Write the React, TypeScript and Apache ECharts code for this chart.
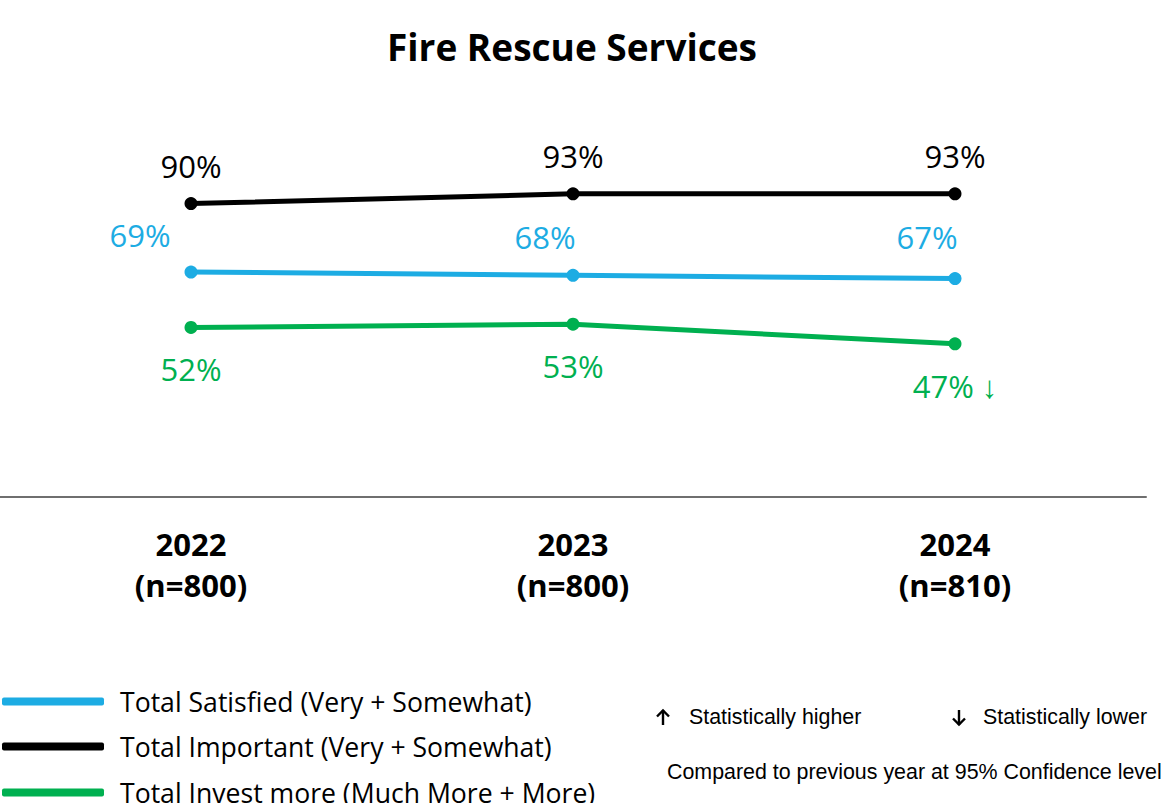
import React, { useEffect, useRef } from "react";
import * as echarts from "echarts";

const years = ["2022\n(n=800)", "2023\n(n=800)", "2024\n(n=810)"];
const satisfied = [69, 68, 67];
const important = [90, 93, 93];
const investMore = [52, 53, 47];
const investFlags = ["", "", " ↓"];
const seriesNames = [
  "Total Satisfied (Very + Somewhat)",
  "Total Important (Very + Somewhat)",
  "Total Invest more (Much More + More)",
];

const FONT = "'Open Sans', 'Noto Sans', sans-serif";
const NOTE_FONT = "21.4px 'Liberation Sans', Arial, sans-serif";
const BLUE = "#1DACE3";
const BLACK = "#000000";
const GREEN = "#00B050";

function arrow(cx: number, top: number, bottom: number, up: boolean) {
  const tip = up ? top : bottom;
  const dir = up ? 1 : -1;
  const style = { stroke: "#000", lineWidth: 2.4, fill: null, lineCap: "butt", lineJoin: "miter" };
  return [
    { type: "line", shape: { x1: cx, y1: top, x2: cx, y2: bottom }, style },
    {
      type: "polyline",
      shape: { points: [[cx - 6, tip + dir * 6.5], [cx, tip + dir * 0.5], [cx + 6, tip + dir * 6.5]] },
      style,
    },
  ];
}

const satisfiedLabelOffsets = [[-51, 0], [-28, -1], [-28, -5]];

export default function App() {
  const ref = useRef<HTMLDivElement>(null);
  useEffect(() => {
    document.body.style.margin = "0";
    const chart = echarts.init(ref.current!, null, { renderer: "svg" });
    const legendTops = [688, 733, 779];
    const option: any = {
      animation: false,
      backgroundColor: "#ffffff",
      title: {
        text: "Fire Rescue Services",
        left: 572,
        textAlign: "center",
        top: 28,
        padding: 0,
        textStyle: { fontFamily: FONT, fontWeight: "bold", fontSize: 37, color: "#000" },
      },
      grid: { left: -2, right: 24, top: 171, bottom: 306, containLabel: false },
      xAxis: {
        type: "category",
        data: years,
        boundaryGap: true,
        axisLine: { show: true, lineStyle: { color: "#6f6f6f", width: 2 } },
        axisTick: { show: false },
        axisLabel: {
          margin: 26,
          fontFamily: FONT,
          fontWeight: "bold",
          fontSize: 31,
          lineHeight: 41,
          color: "#000",
        },
      },
      yAxis: { type: "value", min: 0, max: 100, show: false, splitLine: { show: false } },
      legend: seriesNames.map((name, i) => ({
        orient: "vertical",
        left: 2,
        top: legendTops[i],
        padding: 0,
        itemWidth: 102,
        itemHeight: 8,
        icon: "roundRect",
        data: [name],
        textStyle: { fontFamily: FONT, fontSize: 26.6, color: "#000", padding: [0, 0, 0, 11], lineHeight: 24 },
      })),
      series: [
        {
          name: seriesNames[0],
          type: "line",
          data: satisfied.map((v, i) => ({
            value: v,
            label: { offset: satisfiedLabelOffsets[i] },
          })),
          symbol: "circle",
          symbolSize: 13,
          lineStyle: { color: BLUE, width: 5 },
          itemStyle: { color: BLUE },
          label: {
            show: true,
            position: "top",
            distance: 15,
            formatter: "{c}%",
            fontFamily: FONT,
            fontSize: 31,
            color: BLUE,
          },
        },
        {
          name: seriesNames[1],
          type: "line",
          data: important,
          symbol: "circle",
          symbolSize: 13,
          lineStyle: { color: BLACK, width: 5 },
          itemStyle: { color: BLACK },
          label: {
            show: true,
            position: "top",
            distance: 16,
            formatter: "{c}%",
            fontFamily: FONT,
            fontSize: 31,
            color: BLACK,
          },
        },
        {
          name: seriesNames[2],
          type: "line",
          data: investMore,
          symbol: "circle",
          symbolSize: 13,
          lineStyle: { color: GREEN, width: 5 },
          itemStyle: { color: GREEN },
          label: {
            show: true,
            position: "bottom",
            distance: 20,
            formatter: (p: any) => `${p.value}%${investFlags[p.dataIndex]}`,
            fontFamily: FONT,
            fontSize: 31,
            color: GREEN,
          },
        },
      ],
      graphic: [
        ...arrow(663, 710, 725, true),
        {
          type: "text",
          left: 689,
          top: 706,
          style: { text: "Statistically higher", font: NOTE_FONT, fill: "#000" },
        },
        ...arrow(959, 710, 725, false),
        {
          type: "text",
          left: 983,
          top: 706,
          style: { text: "Statistically lower", font: NOTE_FONT, fill: "#000" },
        },
        {
          type: "text",
          left: 667,
          top: 761,
          style: {
            text: "Compared to previous year at 95% Confidence level",
            font: NOTE_FONT,
            fill: "#000",
          },
        },
      ],
    };
    chart.setOption(option);
    return () => chart.dispose();
  }, []);
  return <div ref={ref} style={{ width: 1170, height: 803 }} />;
}
